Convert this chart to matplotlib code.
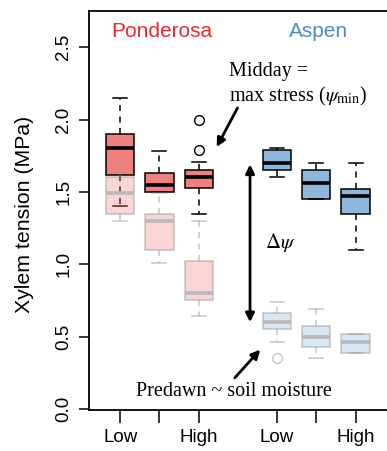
import matplotlib
matplotlib.use("Agg")
import matplotlib.pyplot as plt

plt.rcParams["font.family"] = ["Liberation Sans", "DejaVu Sans"]
plt.rcParams["mathtext.fontset"] = "stix"

# box positions: ponderosa 1-3, aspen 5-7 (soil moisture Low -> High)
pos_pond = [1, 2, 3]
pos_asp = [5, 6, 7]

# midday water potential summaries (MPa): whislo, q1, med, q3, whishi
pond_mid_lo = [1.40, 1.50, 1.35]
pond_mid_q1 = [1.62, 1.50, 1.53]
pond_mid_med = [1.80, 1.55, 1.60]
pond_mid_q3 = [1.90, 1.63, 1.65]
pond_mid_hi = [2.15, 1.78, 1.71]
pond_mid_out = [[], [], [2.00, 1.79]]

asp_mid_lo = [1.60, 1.45, 1.10]
asp_mid_q1 = [1.65, 1.45, 1.35]
asp_mid_med = [1.70, 1.56, 1.47]
asp_mid_q3 = [1.79, 1.65, 1.52]
asp_mid_hi = [1.80, 1.70, 1.70]
asp_mid_out = [[], [], []]

# predawn summaries
pond_pre_lo = [1.30, 1.01, 0.64]
pond_pre_q1 = [1.35, 1.10, 0.75]
pond_pre_med = [1.49, 1.30, 0.80]
pond_pre_q3 = [1.60, 1.35, 1.02]
pond_pre_hi = [1.80, 1.49, 1.30]
pond_pre_out = [[], [], []]

asp_pre_lo = [0.46, 0.35, 0.39]
asp_pre_q1 = [0.55, 0.43, 0.39]
asp_pre_med = [0.60, 0.50, 0.46]
asp_pre_q3 = [0.66, 0.57, 0.52]
asp_pre_hi = [0.74, 0.69, 0.52]
asp_pre_out = [[0.35], [], []]

x_ticks = [1, 2, 3, 5, 6, 7]
x_labels = ["Low", "", "High", "Low", "", "High"]
y_ticks = [0.0, 0.5, 1.0, 1.5, 2.0, 2.5]

RED = "#EF8080"
BLUE = "#8DB7DD"
RED_TXT = "#E8282D"
BLUE_TXT = "#4A8DC9"


def make_stats(lo, q1, med, q3, hi, out):
    return [dict(whislo=a, q1=b, med=c, q3=d, whishi=e, fliers=f)
            for a, b, c, d, e, f in zip(lo, q1, med, q3, hi, out)]


def draw_boxes(ax, stats, positions, face, light=False):
    if light:
        edge = (0.6, 0.6, 0.6, 0.55)
        med = (0.72, 0.72, 0.72, 1.0)
        fc = matplotlib.colors.to_rgba(face, 0.33)
    else:
        edge = "black"
        med = "black"
        fc = face
    ax.bxp(stats, positions=positions, widths=0.72, capwidths=0.36,
           patch_artist=True,
           boxprops=dict(facecolor=fc, edgecolor=edge, linewidth=1.1),
           medianprops=dict(color=med, linewidth=2.6, solid_capstyle="butt"),
           whiskerprops=dict(color=edge, linewidth=1.1, linestyle=(0, (4, 3.5))),
           capprops=dict(color=edge, linewidth=1.1),
           flierprops=dict(marker="o", markerfacecolor="none",
                           markeredgecolor=edge, markersize=7, markeredgewidth=1.0))


fig = plt.figure(figsize=(3.87, 4.51), dpi=100)
ax = fig.add_axes([89 / 387, 41 / 451, 1.0 - 89 / 387 + 0.01, 399 / 451])

draw_boxes(ax, make_stats(pond_mid_lo, pond_mid_q1, pond_mid_med, pond_mid_q3,
                          pond_mid_hi, pond_mid_out), pos_pond, RED)
draw_boxes(ax, make_stats(asp_mid_lo, asp_mid_q1, asp_mid_med, asp_mid_q3,
                          asp_mid_hi, asp_mid_out), pos_asp, BLUE)
draw_boxes(ax, make_stats(pond_pre_lo, pond_pre_q1, pond_pre_med, pond_pre_q3,
                          pond_pre_hi, pond_pre_out), pos_pond, RED, light=True)
draw_boxes(ax, make_stats(asp_pre_lo, asp_pre_q1, asp_pre_med, asp_pre_q3,
                          asp_pre_hi, asp_pre_out), pos_asp, BLUE, light=True)

ax.set_xlim(0.205, 7.9)
ax.set_ylim(-0.007, 2.75)
ax.set_xticks(x_ticks)
ax.set_xticklabels(x_labels, fontsize=13.5)
ax.set_yticks(y_ticks)
ax.set_yticklabels([f"{v:.1f}" for v in y_ticks], fontsize=13.5,
                   rotation=90, va="center")
ax.tick_params(axis="both", length=7, width=1.1, pad=5)
ax.tick_params(axis="x", length=9)
for s in ax.spines.values():
    s.set_linewidth(1.3)
ax.spines["right"].set_visible(False)
ax.set_ylabel("Xylem tension (MPa)", fontsize=15.3, va="center")
ax.yaxis.set_label_coords(-0.215, 0.49)

ax.text(2.05, 2.61, "Ponderosa", color=RED_TXT, fontsize=15,
        ha="center", va="center")
ax.text(6.05, 2.61, "Aspen", color=BLUE_TXT, fontsize=15,
        ha="center", va="center")

serif = ["Liberation Serif", "DejaVu Serif"]
ax.text(3.77, 2.33, "Midday =", fontsize=14.5, family=serif, ha="left", va="center")
ax.text(3.77, 2.16, r"max stress ($\psi_{\mathrm{min}}$)", fontsize=14.5,
        family=serif, ha="left", va="center")
ax.text(3.9, 0.12, "Predawn ~ soil moisture", fontsize=14.5, family=serif,
        ha="center", va="center")
ax.text(4.69, 1.15, r"$\Delta\psi$", fontsize=15, ha="left", va="center")

ax.annotate("", xy=(3.46, 1.81), xytext=(3.99, 2.08),
            arrowprops=dict(arrowstyle="-|>", color="black", lw=2,
                            mutation_scale=13, shrinkA=0, shrinkB=0))
ax.annotate("", xy=(4.57, 0.41), xytext=(3.92, 0.215),
            arrowprops=dict(arrowstyle="-|>", color="black", lw=2,
                            mutation_scale=13, shrinkA=0, shrinkB=0))
ax.annotate("", xy=(4.31, 0.60), xytext=(4.31, 1.69),
            arrowprops=dict(arrowstyle="<|-|>", color="black", lw=2,
                            mutation_scale=13, shrinkA=0, shrinkB=0))

fig.savefig("out.png", dpi=100)
